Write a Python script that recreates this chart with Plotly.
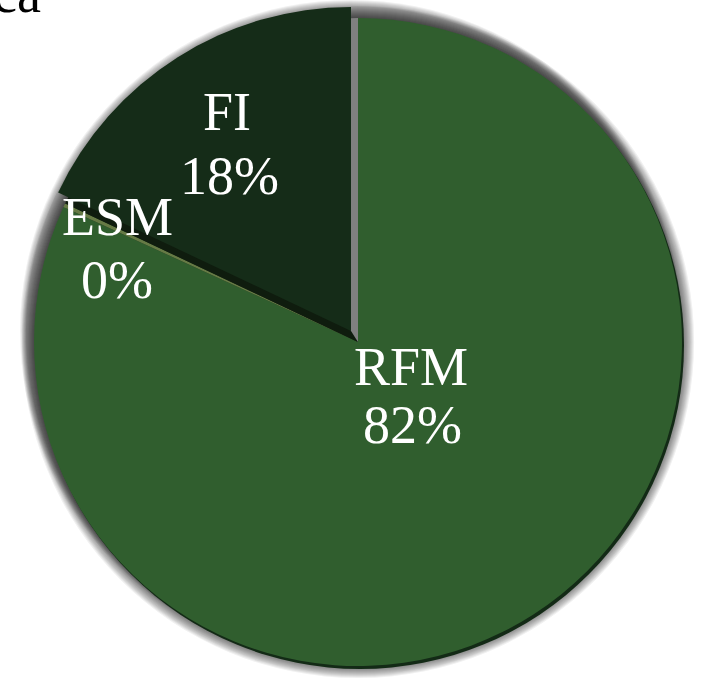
import plotly.graph_objects as go

# ---- data ----
labels = ["RFM", "ESM", "FI"]
values = [82, 0.2, 18]          # ESM is a tiny sliver that rounds to 0%
title_text = "ca"

# ---- styling / layout constants ----
W, H = 706, 678
CX, CY, R = 358, 342, 324        # pie centre (px from top-left) and radius
FI_DX, FI_DY = -7, -11           # explode offset of the FI slice
COL_RFM = "#305E2E"
COL_FI = "#152C18"
COL_ESM = "#667A45"
COL_GAP_LOW = "#0F1C0E"
COL_GAP_UP = "#808080"
COL_RIM = "#132A16"
CLEAR = "rgba(0,0,0,0)"
SHADOW_A = "rgba(0,0,0,0.06)"
SHADOW_B = "rgba(0,0,0,0.06)"
FONT = "Liberation Serif"


def dom(cx, cy, h):
    return dict(x=[(cx - h) / W, (cx + h) / W],
                y=[(H - cy - h) / H, (H - cy + h) / H])


def pie(vals, colors, cx, cy, h, labs=None):
    return go.Pie(values=vals, labels=labs,
                  marker=dict(colors=colors, line=dict(width=0)),
                  domain=dom(cx, cy, h), sort=False, direction="clockwise",
                  rotation=0, textinfo="none", hoverinfo="skip",
                  showlegend=False)


fig = go.Figure()

# soft drop shadow around the whole pie
for k in range(1, 13):
    fig.add_trace(pie([1], [SHADOW_A], CX, CY, R + k))
# soft drop shadow around the exploded FI slice
for k in range(1, 8):
    fig.add_trace(pie([1], [SHADOW_B], CX + FI_DX, CY + FI_DY, R + k))
# dark rim (bevel) at lower right
fig.add_trace(pie([1], [COL_RIM], CX + 2, CY + 3, R))
# base pie: RFM, ESM and the gap left behind by the exploded FI slice
base_vals = [values[0], values[1], values[2] / 2, values[2] / 2]
fig.add_trace(pie(base_vals, [COL_RFM, COL_ESM, COL_GAP_LOW, COL_GAP_UP],
                  CX, CY, R))
# exploded FI slice
fig.add_trace(pie(values, [CLEAR, CLEAR, COL_FI], CX + FI_DX, CY + FI_DY, R,
                  labs=labels))

# slice labels (name line and percent line), centre positions in px
label_pos = {"RFM": [(411, 367), (412, 425)],
             "ESM": [(117, 217), (117, 280)],
             "FI": [(227, 112), (229, 176)]}
total = sum(values)
for lab, v in zip(labels, values):
    pct = f"{round(v / total * 100)}%"
    for txt, (px, py) in zip([lab, pct], label_pos[lab]):
        fig.add_annotation(text=txt, x=px / W, y=1 - py / H, xref="paper",
                           yref="paper", xanchor="center", yanchor="middle",
                           showarrow=False,
                           font=dict(family=FONT, size=54, color="white"))

# partially visible title at top-left
fig.add_annotation(text=title_text, x=43 / W, y=1 + 6 / H, xref="paper",
                   yref="paper", xanchor="right", yanchor="middle",
                   showarrow=False, font=dict(family=FONT, size=54, color="black"))

fig.update_layout(width=W, height=H, margin=dict(l=0, r=0, t=0, b=0),
                  paper_bgcolor="white", plot_bgcolor="white")
fig.write_html("out.html", config={"displayModeBar": False},
               post_script="document.body.style.margin='0px';")
